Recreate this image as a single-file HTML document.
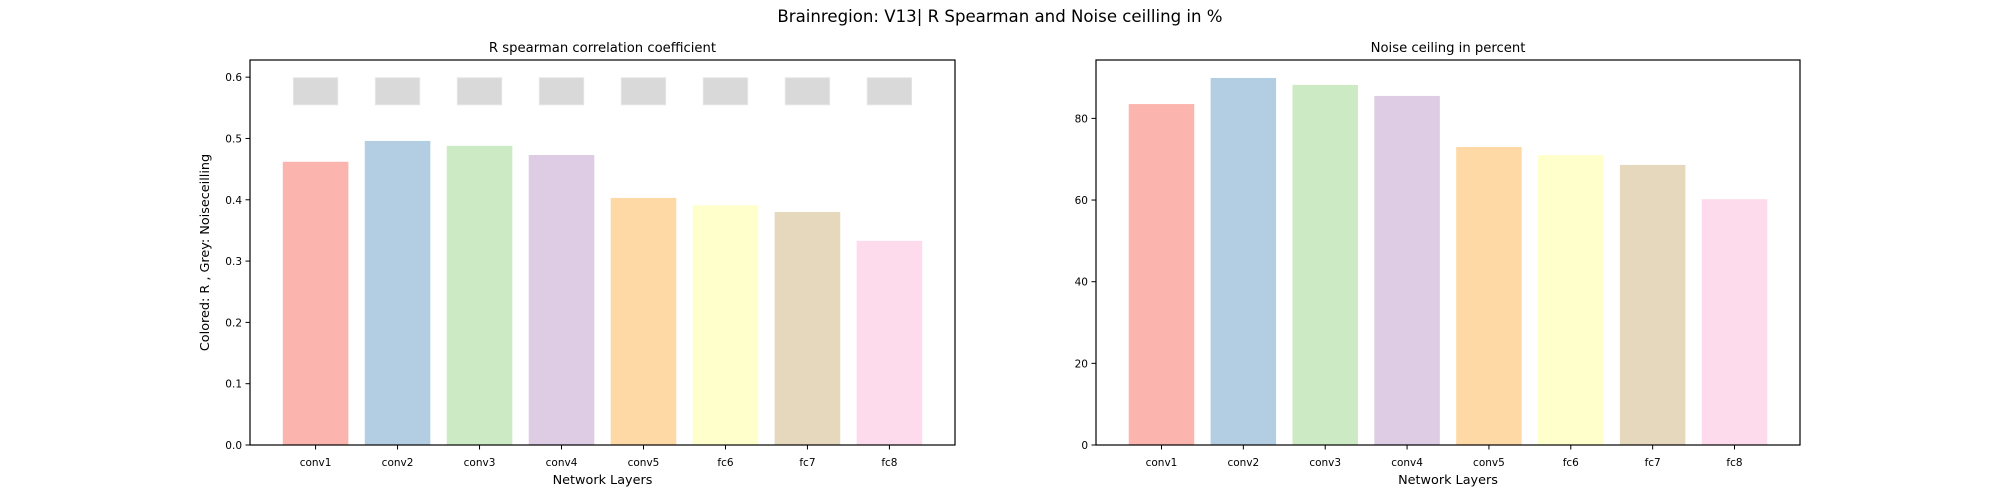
<!DOCTYPE html>
<html><head><meta charset="utf-8"><style>
body{margin:0;background:#fff;}
svg{display:block;font-family:"DejaVu Sans","Liberation Sans",sans-serif;}
</style></head><body>
<svg id="chart" width="2000" height="500" viewBox="0 0 2000 500" xmlns="http://www.w3.org/2000/svg">
<text x="1000" y="22" font-size="16.6" text-anchor="middle">Brainregion: V13| R Spearman and Noise ceilling in %</text>
</svg>
<script>
const categories = ["conv1","conv2","conv3","conv4","conv5","fc6","fc7","fc8"];
const rValues = [0.462,0.496,0.488,0.473,0.403,0.391,0.380,0.333];
const greyTop = [0.599,0.599,0.599,0.599,0.599,0.599,0.599,0.599];
const greyBottom = [0.555,0.555,0.555,0.555,0.555,0.555,0.555,0.555];
const noiseValues = [83.5,89.9,88.2,85.5,73.0,71.0,68.6,60.2];
const leftTicks = [0.0,0.1,0.2,0.3,0.4,0.5,0.6];
const leftTickLabels = ["0.0","0.1","0.2","0.3","0.4","0.5","0.6"];
const rightTicks = [0,20,40,60,80];
const rightTickLabels = ["0","20","40","60","80"];
const colors = ["#fbb4ae","#b3cde3","#ccebc5","#decbe4","#fed9a6","#ffffcc","#e5d8bd","#fddaec"];

const svg = document.getElementById('chart');
const NS = "http://www.w3.org/2000/svg";
function mk(tag, attrs, parent){const e=document.createElementNS(NS,tag);for(const k in attrs)e.setAttribute(k,attrs[k]);(parent||svg).appendChild(e);return e;}

function panel(name, x0, x1, ymax, title, ticks, tickLabels, values, ylabel, greyT, greyB){
  const y0=445, yTop=60;
  const g = mk('g',{});
  
  
  const xs = i => x0 + (i + 0.8) / 8.6 * (x1 - x0);
  const step = (x1 - x0) / 8.6;
  const ys = v => y0 - v / ymax * (y0 - yTop);
  values.forEach((v,i)=>{
    const r = mk('rect',{x:xs(i)-0.4*step,y:ys(v),width:0.8*step,height:y0-ys(v),fill:colors[i]},g);
    
    
  });
  if(greyT){
    greyT.forEach((v,i)=>{
      const r = mk('rect',{x:xs(i)-0.27*step,y:ys(v),width:0.54*step,height:ys(greyB[i])-ys(v),fill:"#d9d9d9",stroke:"#e4e4e4","stroke-width":1},g);
      
      
    });
  }
  const fr = mk('rect',{x:x0,y:yTop,width:x1-x0,height:y0-yTop,fill:"none",stroke:"#000","stroke-width":1.2},g);
  
  
  ticks.forEach((t,i)=>{
    const y=ys(t);
    mk('line',{x1:x0-4.5,x2:x0,y1:y,y2:y,stroke:"#000","stroke-width":1},g);
    const tx=mk('text',{x:x0-8,y:y+4,"font-size":10.5,"text-anchor":"end"},g);
    tx.textContent=tickLabels[i];
    
    
  });
  categories.forEach((c,i)=>{
    const x=xs(i);
    mk('line',{x1:x,x2:x,y1:y0,y2:y0+4.5,stroke:"#000","stroke-width":1},g);
    const tx=mk('text',{x:x,y:466,"font-size":10.5,"text-anchor":"middle"},g);
    tx.textContent=c;
    
    
  });
  const xl=mk('text',{x:(x0+x1)/2,y:484,"font-size":12.8,"text-anchor":"middle"},g);
  xl.textContent="Network Layers";
  
  
  const tt=mk('text',{x:(x0+x1)/2,y:52,"font-size":13.2,"text-anchor":"middle"},g);
  tt.textContent=title;
  
  
  if(ylabel){
    const yl=mk('text',{x:0,y:0,"font-size":12.8,"text-anchor":"middle",transform:`translate(209,${(y0+yTop)/2}) rotate(-90)`},g);
    yl.textContent=ylabel;
    
    
  }
}
panel('r-spearman-panel',250,955,0.628,"R spearman correlation coefficient",leftTicks,leftTickLabels,rValues,"Colored: R , Grey: Noiseceilling",greyTop,greyBottom);
panel('noise-ceiling-panel',1096,1800,94.3,"Noise ceiling in percent",rightTicks,rightTickLabels,noiseValues,null,null,null);
</script>
</body></html>
